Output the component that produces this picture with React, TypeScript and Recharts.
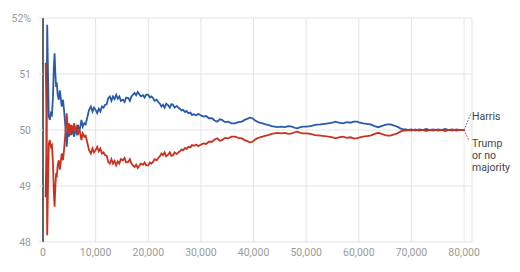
import React from "react";
import { LineChart, Line, XAxis, YAxis, CartesianGrid } from "recharts";

const votes = [
  500, 650, 800, 950, 1100, 1300, 1500, 1700, 1900, 2050,
  2200, 2350, 2500, 2650, 2800, 3000, 3200, 3400, 3550, 3800,
  4000, 4150, 4350, 4500, 4650, 4800, 4950, 5150, 5400, 5650,
  5900, 6150, 6400, 6650, 6850, 7050, 7300, 7550, 7850, 8100,
  8400, 8750, 9100, 9400, 9700, 10000, 10300, 10600, 10900, 11200,
  11500, 11800, 12100, 12400, 12700, 13000, 13300, 13600, 13900, 14200,
  14500, 14800, 15200, 15500, 15800, 16200, 16500, 16800, 17100, 17400,
  17700, 18000, 18300, 18600, 19000, 19300, 19600, 20000, 20300, 20600,
  20900, 21200, 21600, 21900, 22200, 22500, 22800, 23100, 23400, 23800,
  24100, 24400, 24700, 25000, 25400, 25700, 26000, 26300, 26600, 27000,
  27300, 27600, 28000, 28300, 28700, 29100, 29500, 30000, 30500, 31000,
  31500, 32100, 32600, 33100, 33600, 34000, 34600, 35200, 35800, 36500,
  37100, 37800, 38300, 38800, 39300, 39800, 40300, 40700, 41200, 41700,
  42300, 42800, 43400, 44000, 44500, 45200, 46000, 46600, 47300, 47800,
  48300, 48900, 49400, 50100, 50800, 51700, 52700, 53500, 54200, 55000,
  55500, 56200, 57000, 57700, 58400, 59000, 59700, 60200, 60800, 61500,
  62200, 63000, 63700, 64300, 65000, 65500, 66000, 66700, 67300, 67900,
  68400, 69000, 69400, 70000, 70700, 71400, 72100, 72800, 73500, 74200,
  75000, 75700, 76400, 77100, 77800, 78500, 79200, 80000,
];

const harris = [
  48.8, 49.6, 51.88, 51.0, 50.25, 50.18, 50.3, 50.27, 50.6, 51.1,
  51.37, 51.0, 50.77, 50.8, 50.62, 50.54, 50.71, 50.55, 50.42, 50.54,
  50.35, 50.18, 49.94, 49.7, 49.9, 50.06, 49.88, 50.09, 49.91, 50.04,
  49.88, 50.0, 49.94, 50.09, 49.98, 50.04, 50.18, 50.06, 50.12, 50.1,
  50.22, 50.36, 50.42, 50.33, 50.4, 50.36, 50.3, 50.38, 50.33, 50.42,
  50.4, 50.45, 50.46, 50.57, 50.6, 50.52, 50.6, 50.55, 50.63, 50.56,
  50.6, 50.52, 50.54, 50.5, 50.58, 50.57, 50.52, 50.6, 50.63, 50.66,
  50.62, 50.68, 50.64, 50.6, 50.62, 50.58, 50.63, 50.63, 50.58, 50.6,
  50.57, 50.52, 50.54, 50.5, 50.47, 50.42, 50.45, 50.4, 50.47, 50.44,
  50.4, 50.46, 50.45, 50.4, 50.43, 50.4, 50.38, 50.35, 50.36, 50.32,
  50.34, 50.3, 50.31, 50.27, 50.28, 50.26, 50.29, 50.26, 50.24, 50.25,
  50.21, 50.21, 50.17, 50.15, 50.19, 50.18, 50.14, 50.15, 50.12, 50.12,
  50.14, 50.15, 50.18, 50.2, 50.22, 50.21, 50.17, 50.15, 50.13, 50.12,
  50.1, 50.09, 50.07, 50.06, 50.05, 50.06, 50.05, 50.07, 50.06, 50.04,
  50.03, 50.05, 50.06, 50.06, 50.07, 50.09, 50.1, 50.11, 50.12, 50.13,
  50.15, 50.13, 50.12, 50.14, 50.13, 50.15, 50.15, 50.13, 50.12, 50.11,
  50.1, 50.07, 50.05, 50.07, 50.09, 50.1, 50.1, 50.08, 50.06, 50.03,
  50.01, 50.01, 50.0, 50.01, 49.99, 50.01, 50.0, 50.02, 50.0, 49.99,
  50.01, 50.0, 50.02, 50.0, 50.01, 49.99, 50.0, 50.0,
];

const trump = [
  51.2, 50.4, 48.12, 49.0, 49.75, 49.82, 49.7, 49.73, 49.4, 48.9,
  48.63, 49.0, 49.23, 49.2, 49.38, 49.46, 49.29, 49.45, 49.58, 49.46,
  49.65, 49.82, 50.06, 50.3, 50.1, 49.94, 50.12, 49.91, 50.09, 49.96,
  50.12, 50.0, 50.06, 49.91, 50.02, 49.96, 49.82, 49.94, 49.88, 49.9,
  49.78, 49.64, 49.58, 49.67, 49.6, 49.64, 49.7, 49.62, 49.67, 49.58,
  49.6, 49.55, 49.54, 49.43, 49.4, 49.48, 49.4, 49.45, 49.37, 49.44,
  49.4, 49.48, 49.46, 49.5, 49.42, 49.43, 49.48, 49.4, 49.37, 49.34,
  49.38, 49.32, 49.36, 49.4, 49.38, 49.42, 49.37, 49.37, 49.42, 49.4,
  49.43, 49.48, 49.46, 49.5, 49.53, 49.58, 49.55, 49.6, 49.53, 49.56,
  49.6, 49.54, 49.55, 49.6, 49.57, 49.6, 49.62, 49.65, 49.64, 49.68,
  49.66, 49.7, 49.69, 49.73, 49.72, 49.74, 49.71, 49.74, 49.76, 49.75,
  49.79, 49.79, 49.83, 49.85, 49.81, 49.82, 49.86, 49.85, 49.88, 49.88,
  49.86, 49.85, 49.82, 49.8, 49.78, 49.79, 49.83, 49.85, 49.87, 49.88,
  49.9, 49.91, 49.93, 49.94, 49.95, 49.94, 49.95, 49.93, 49.94, 49.96,
  49.97, 49.95, 49.94, 49.94, 49.93, 49.91, 49.9, 49.89, 49.88, 49.87,
  49.85, 49.87, 49.88, 49.86, 49.87, 49.85, 49.85, 49.87, 49.88, 49.89,
  49.9, 49.93, 49.95, 49.93, 49.91, 49.9, 49.9, 49.92, 49.94, 49.97,
  49.99, 49.99, 50.0, 49.99, 50.01, 49.99, 50.0, 49.98, 50.0, 50.01,
  49.99, 50.0, 49.98, 50.0, 49.99, 50.01, 50.0, 50.0,
];

const xTicks = [0, 10000, 20000, 30000, 40000, 50000, 60000, 70000, 80000];
const yTicks = [48, 49, 50, 51, 52];
const harrisLabel = ["Harris"];
const trumpLabel = ["Trump", "or no", "majority"];

const data = votes.map((v, i) => ({ votes: v, harris: harris[i], trump: trump[i] }));

const BLUE = "#2a5ba8";
const RED = "#c9321f";
const FONT = "Roboto, 'Noto Sans', sans-serif";
const last = votes.length - 1;

const HarrisEnd = (props: any) => {
  const { x, y, index } = props;
  if (index !== last || x == null) return null;
  return (
    <g>
      <path d={`M${x},${y} L${x + 7},${y - 17}`} stroke={BLUE} strokeWidth={1} strokeDasharray="1.5 1.5" fill="none" />
      <text x={x + 8} y={y - 10} fontSize={10.5} fill="#444" fontFamily={FONT}>
        {harrisLabel[0]}
      </text>
    </g>
  );
};

const TrumpEnd = (props: any) => {
  const { x, y, index } = props;
  if (index !== last || x == null) return null;
  return (
    <g>
      <path d={`M${x},${y} L${x + 5},${y + 11}`} stroke={RED} strokeWidth={1} strokeDasharray="1.5 1.5" fill="none" />
      {trumpLabel.map((t, i) => (
        <text key={t} x={x + 8} y={y + 17 + i * 12} fontSize={10.5} fill="#444" fontFamily={FONT}>
          {t}
        </text>
      ))}
    </g>
  );
};

export default function App() {
  return (
    <div style={{ position: "absolute", left: 0, top: 0, width: 520, height: 272, background: "#fff" }}>
      <LineChart width={520} height={272} data={data} margin={{ top: 18, right: 48, bottom: 10, left: 0 }}>
        <CartesianGrid stroke="#e4e4e4" strokeWidth={1} />
        <XAxis
          dataKey="votes"
          type="number"
          domain={[0, 81500]}
          ticks={xTicks}
          tickFormatter={(v: number) => v.toLocaleString("en-US")}
          axisLine={false}
          tickLine={false}
          tickSize={5}
          tickMargin={2}
          height={20}
          tick={{ fill: "#9a9a9a", fontSize: 10.5, fontFamily: FONT }}
          interval={0}
        />
        <YAxis
          type="number"
          domain={[48, 52]}
          ticks={yTicks}
          width={43}
          tickFormatter={(v: number) => (v === 52 ? "52%" : String(v))}
          axisLine={{ stroke: "#333", strokeWidth: 1.5 }}
          tickLine={{ stroke: "#ddd" }}
          tickSize={4}
          tickMargin={8}
          tick={{ fill: "#9a9a9a", fontSize: 10.5, fontFamily: FONT }}
          interval={0}
        />
        <Line
          type="linear"
          dataKey="harris"
          stroke={BLUE}
          strokeWidth={1.8}
          dot={false}
          isAnimationActive={false}
          label={<HarrisEnd />}
        />
        <Line
          type="linear"
          dataKey="trump"
          stroke={RED}
          strokeWidth={1.8}
          dot={false}
          isAnimationActive={false}
          label={<TrumpEnd />}
        />
      </LineChart>
    </div>
  );
}
